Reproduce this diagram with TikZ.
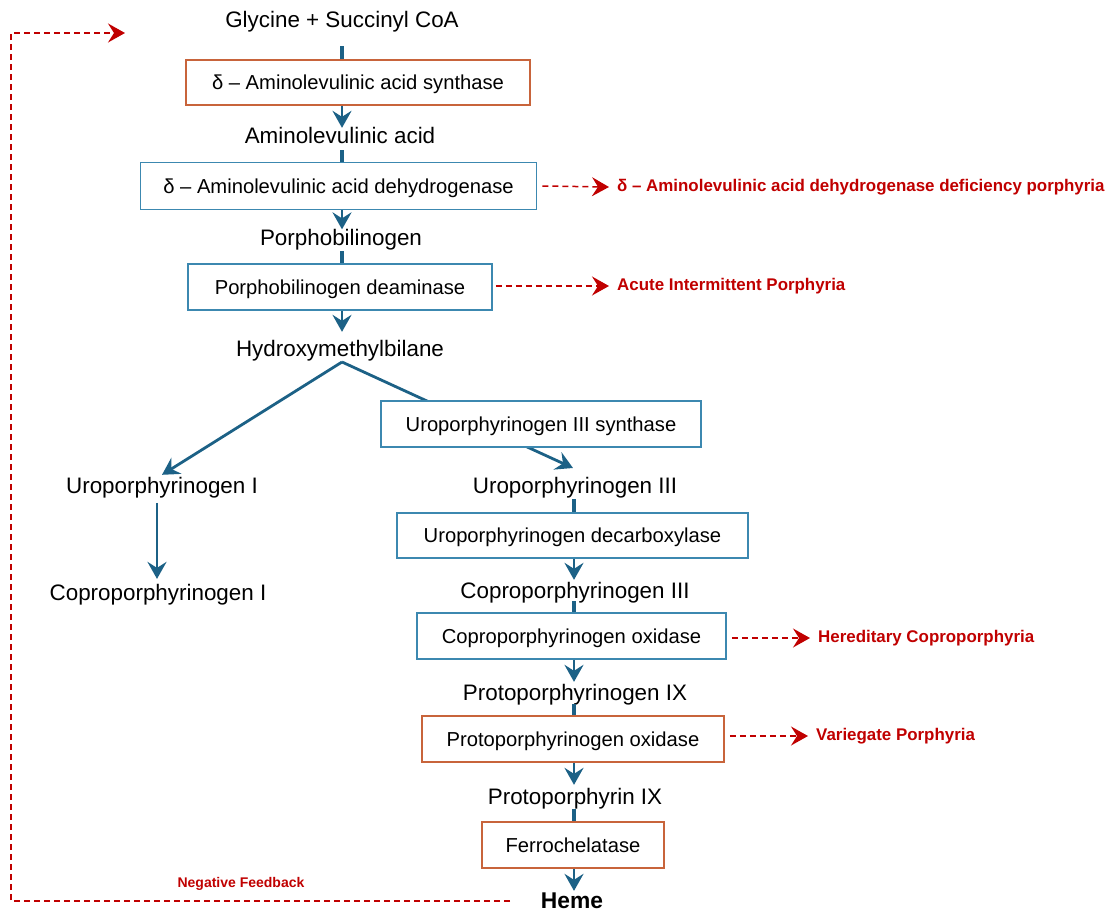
\documentclass[tikz,border=0pt]{standalone}
\usepackage{fontspec}
\setmainfont{Liberation Sans}
\usetikzlibrary{arrows.meta}
\definecolor{arrowblue}{HTML}{1C6186}
\definecolor{boxblue}{HTML}{3C88B0}
\definecolor{boxorange}{HTML}{C8643B}
\definecolor{dred}{HTML}{C00000}
\begin{document}
\begin{tikzpicture}[x=1pt,y=-1pt,
  lbl/.style={font=\fontsize{22.4}{26}\selectfont, inner sep=0pt, text height=16pt, text depth=4.7pt, anchor=base},
  ebox/.style={draw, line width=1.7pt, fill=white, inner sep=0pt, font=\fontsize{20.2}{24}\selectfont, text height=16pt, text depth=1.5pt},
  bluebox/.style={ebox, draw=boxblue},
  orbox/.style={ebox, draw=boxorange},
  stub/.style={draw=arrowblue, line width=3.4pt},
  arr/.style={draw=arrowblue, line width=2.8pt, -{Stealth[length=17pt, width=19pt, inset=6pt]}},
  disease/.style={text=dred, font=\bfseries\fontsize{16.9}{20}\selectfont, inner sep=0pt, anchor=west},
  redarr/.style={draw=dred, line width=1.5pt, dash pattern=on 6pt off 4pt, -{Stealth[length=17pt, width=19pt, inset=6pt, sep=0pt]}},
]
\useasboundingbox (0,0) rectangle (1113,913);
\coordinate (c1) at (342,0);
\coordinate (c2) at (574,0);
% metabolites
\node[lbl] (gly) at (342,27) {Glycine + Succinyl CoA};
\node[lbl] (ala) at (340,143) {Aminolevulinic acid};
\node[lbl] (pbg) at (341,245) {Porphobilinogen};
\node[lbl] (hmb) at (340,356) {Hydroxymethylbilane};
\node[lbl] (uroI) at (162,493) {Uroporphyrinogen I};
\node[lbl] (coproI) at (158,600) {Coproporphyrinogen I};
\node[lbl] (uroIII) at (575,493) {Uroporphyrinogen III};
\node[lbl] (coproIII) at (575,598) {Coproporphyrinogen III};
\node[lbl] (protoIX) at (575,700) {Protoporphyrinogen IX};
\node[lbl] (pphIX) at (575,804) {Protoporphyrin IX};
\node[lbl, font=\bfseries\fontsize{22.8}{26}\selectfont] (heme) at (572,908) {Heme};
% branch lines (drawn before boxes)
\coordinate (apex) at (342,362);
\coordinate (uroIIIin) at (573,468);
\draw[arr] (apex) -- ([yshift=2pt]uroI.north);
\draw[arr] (apex) -- (uroIIIin);
% enzymes
\node[orbox, minimum width=344pt, minimum height=45pt] (b1) at (358,82.5) {δ – Aminolevulinic acid synthase};
\node[bluebox, minimum width=396pt, minimum height=47pt] (b2) at (338.5,186) {δ – Aminolevulinic acid dehydrogenase};
\node[bluebox, minimum width=304pt, minimum height=46pt] (b3) at (340,287) {Porphobilinogen deaminase};
\node[bluebox, minimum width=320pt, minimum height=46pt] (b4) at (541,424) {Uroporphyrinogen III synthase};
\node[bluebox, minimum width=351pt, minimum height=45pt] (b5) at (572.5,535.5) {Uroporphyrinogen decarboxylase};
\node[bluebox, minimum width=309pt, minimum height=46pt] (b6) at (571.5,636) {Coproporphyrinogen oxidase};
\node[orbox, minimum width=302pt, minimum height=46pt] (b7) at (573,739) {Protoporphyrinogen oxidase};
\node[orbox, minimum width=182pt, minimum height=46pt] (b8) at (573,845) {Ferrochelatase};
% main column stubs and arrows
\draw[stub] (c1 |- b1.north) -- ++(0,-13);
\draw[arr] (c1 |- b1.south) -- ++(0,22);
\draw[stub] (c1 |- b2.north) -- ++(0,-12);
\draw[arr] (c1 |- b2.south) -- ++(0,19);
\draw[stub] (c1 |- b3.north) -- ++(0,-12);
\draw[arr] (c1 |- b3.south) -- ++(0,21);
\draw[arr] ([xshift=-5pt,yshift=-5pt]uroI.south) -- ++(0,76);
\draw[stub] (c2 |- b5.north) -- ++(0,-13);
\draw[arr] (c2 |- b5.south) -- ++(0,21);
\draw[stub] (c2 |- b6.north) -- ++(0,-11);
\draw[arr] (c2 |- b6.south) -- ++(0,22);
\draw[stub] (c2 |- b7.north) -- ++(0,-11);
\draw[arr] (c2 |- b7.south) -- ++(0,22);
\draw[stub] (c2 |- b8.north) -- ++(0,-12);
\draw[arr] (c2 |- b8.south) -- ++(0,22);
% diseases
\node[disease] (d2) at (617,187) {δ – Aminolevulinic acid dehydrogenase deficiency porphyria};
\node[disease] (d3) at (617,286) {Acute Intermittent Porphyria};
\node[disease] (d6) at (818,638) {Hereditary Coproporphyria};
\node[disease] (d7) at (816,736) {Variegate Porphyria};
\draw[redarr] ([xshift=5pt]b2.east) -- ([xshift=-8pt]d2.west);
\draw[redarr] ([xshift=3pt]b3.east |- d3.west) -- ([xshift=-8pt]d3.west);
\draw[redarr] ([xshift=5pt]b6.east |- d6.west) -- ([xshift=-8pt]d6.west);
\draw[redarr] ([xshift=5pt]b7.east |- d7.west) -- ([xshift=-8pt]d7.west);
% negative feedback
\node[text=dred, font=\bfseries\fontsize{14}{17}\selectfont, inner sep=0pt] (nf) at (241,884) {Negative Feedback};
\coordinate (fbstart) at (510,901);
\coordinate (fbend) at (125,33);
\draw[redarr] (fbstart) -- (11,901) -- (11,33) -- (fbend);
\end{tikzpicture}
\end{document}
